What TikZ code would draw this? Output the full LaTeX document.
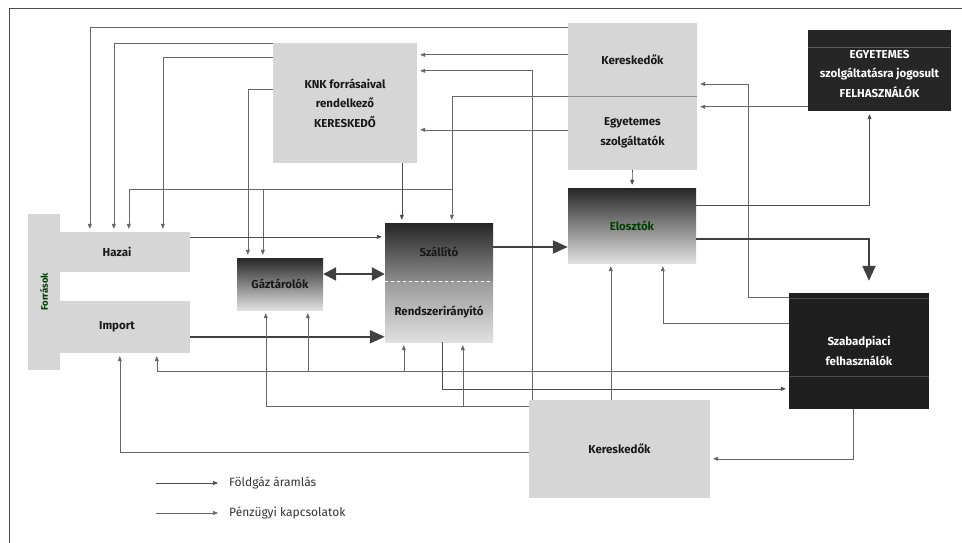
\documentclass[tikz,border=0pt]{standalone}
\usepackage{fontspec}
\setmainfont{Fira Sans}
\usepackage{tikz}
\usetikzlibrary{
  arrows.meta,
}

\begin{document}
\begin{tikzpicture}[
  x = 1pt,
  y = -1pt,
  box/.style={
    draw = none,
    inner sep = 0pt,
    align = center,
    font = \bfseries\fontsize{11.5}{19.5}\selectfont,
    text = black!90,
  },
  light box/.style={
    box,
    fill = black!16,
  },
  dark box/.style={
    box,
    fill = black!85,
    text = white,
  },
  shaded box/.style={
    box,
    top color = black!85,
    bottom color = black!12,
  },
  flow/.style={
    draw = black!70,
    line width = 0.6pt,
    shorten > = 3pt,
    -{Triangle[length=5pt,width=4pt]},
  },
  money/.style={
    flow,
    draw = black!60,
  },
  thick flow/.style={
    draw = black!75,
    line width = 2.2pt,
    -{Triangle[length=15pt,width=13pt]},
  },
  legend text/.style={
    anchor = west,
    inner sep = 0pt,
    font = \fontsize{12}{14}\selectfont,
    text = black!80,
  },
  ]
  \useasboundingbox (0,0) rectangle (962,543);
  \draw [black!70, line width=1pt] (9,543) -- (9,9) -- (962,9);

  \node [light box, minimum width=146, minimum height=40]
    (node-domestic) at (117,252) {Hazai};
  \node [light box, minimum width=146, minimum height=52]
    (node-import) at (117,327) {Import};
  \node [light box, rotate=90, minimum width=156, minimum height=32,
    font=\bfseries\fontsize{9.5}{11}\selectfont, text=green!25!black]
    (node-sources) at (44,292) {Források};
  \node [light box, minimum width=144, minimum height=120]
    (node-knk) at (345,103) {KNK forrásaival\\rendelkező\\KERESKEDŐ};
  \node [light box, minimum width=129, minimum height=73]
    (node-traders-top) at (632.5,59.5) {Kereskedők};
  \node [light box, minimum width=129, minimum height=74]
    (node-suppliers) at (632.5,133) {Egyetemes\\szolgáltatók};
  \node [dark box, minimum width=143, minimum height=81]
    (node-eligible) at (879.5,70.5) {};
  \node [box, text=white] (node-eligible-text) at (879.5,74)
    {EGYETEMES\\szolgáltatásra jogosult\\FELHASZNÁLÓK};
  \node [shaded box, minimum width=128, minimum height=75, text=green!25!black]
    (node-distributors) at (632,225.5) {Elosztók};
  \node [shaded box, bottom color=black!45, minimum width=108, minimum height=58]
    (node-transmission) at (439,252) {Szállító};
  \node [shaded box, top color=black!40, minimum width=108, minimum height=61]
    (node-operator) at (439,311.5) {Rendszerirányító};
  \node [shaded box, minimum width=86, minimum height=52]
    (node-storage) at (280,284) {Gáztárolók};
  \node [dark box, fill=black!88, minimum width=140, minimum height=116]
    (node-free) at (859,351) {Szabadpiaci\\felhasználók};
  \node [light box, minimum width=181, minimum height=98]
    (node-traders-bottom) at (619.5,449) {Kereskedők};

  \draw [black!45, line width=0.8pt]
    (node-traders-top.south west) -- (node-traders-top.south east);
  \draw [white, dashed, line width=0.8pt]
    (node-transmission.south west) -- (node-transmission.south east);
  \draw [black!65]
    ([yshift=-17]node-eligible.north west) -- ([yshift=-17]node-eligible.north east);
  \draw [black!70]
    ([yshift=-5]node-free.north west) -- ([yshift=-5]node-free.north east);
  \draw [black!70]
    ([yshift=-83]node-free.north west) -- ([yshift=-83]node-free.north east);

  \coordinate (split-top) at (452,189);
  \coordinate (turn-free) at (748,84);
  \coordinate (line-free) at ([yshift=-78]node-free.north west);
  \coordinate (line-retail) at ([yshift=-6]node-traders-bottom.north west);

  \draw [money] ([yshift=-5]node-traders-top.north west)
    -| ([xshift=46]node-domestic.north west);
  \draw [money] ([yshift=-1]node-knk.north west)
    -| ([xshift=70]node-domestic.north west);
  \draw [money] ([yshift=-15]node-knk.north west)
    -| ([xshift=119]node-domestic.north west);
  \draw [money] ([yshift=-47]node-knk.north west)
    -| ([xshift=11]node-storage.north west);
  \draw [money] (node-traders-top.south west)
    -| ([xshift=67]node-transmission.north west);
  \draw [money] (split-top) -| ([xshift=85]node-domestic.north west);
  \draw [money] ([xshift=26]node-storage.north west |- split-top)
    -- ([xshift=26]node-storage.north west);
  \draw [money] ([yshift=-32]node-traders-top.north west)
    -- ([yshift=-32]node-traders-top.north west -| node-knk.east);
  \draw [money] ([xshift=3]node-traders-bottom.north west)
    |- ([yshift=-28]node-knk.north east);
  \draw [money] ([yshift=-34]node-suppliers.north west)
    -- ([yshift=-34]node-suppliers.north west -| node-knk.east);
  \draw [money] ([yshift=-4]node-free.north west) -| (turn-free)
    -- (turn-free -| node-traders-top.east);
  \draw [money] ([yshift=-77]node-eligible.north west)
    -- ([yshift=-77]node-eligible.north west -| node-suppliers.east);
  \draw [flow] ([yshift=-17]node-distributors.north east)
    -| ([xshift=-10]node-eligible.south);
  \draw [flow] (node-suppliers.south) -- (node-distributors.north);
  \draw [flow] ([xshift=129]node-knk.south west)
    -- ([xshift=129]node-knk.south west |- node-transmission.north);
  \draw [flow] ([yshift=-5]node-domestic.north east)
    -- ([yshift=-5]node-domestic.north east -| node-transmission.west);

  \draw [thick flow, shorten >=12pt] ([yshift=-51]node-distributors.north east)
    -| ([xshift=10]node-free.north);
  \draw [thick flow] ([yshift=5]node-transmission.east)
    -- ([yshift=5]node-transmission.east -| node-distributors.west);
  \draw [thick flow] ([yshift=-36]node-import.north east)
    -- ([yshift=-36]node-import.north east -| node-operator.west);
  \draw [thick flow, {Triangle[length=13pt,width=13pt]}-{Triangle[length=13pt,width=13pt]}]
    ([yshift=10]node-storage.east)
    -- ([yshift=10]node-storage.east -| node-transmission.west);

  \draw [money] (line-free) -| ([xshift=113]node-import.south west);
  \draw [money] ([xshift=71]node-storage.south west |- line-free)
    -- ([xshift=71]node-storage.south west);
  \draw [money] ([xshift=19]node-operator.south west |- line-free)
    -- ([xshift=19]node-operator.south west);
  \draw [flow] ([xshift=57]node-operator.south west)
    |- ([yshift=-96]node-free.north west);
  \draw [money] (line-retail) -| ([xshift=29]node-storage.south west);
  \draw [money] ([xshift=78]node-operator.south west |- line-retail)
    -- ([xshift=78]node-operator.south west);
  \draw [money] ([yshift=-52]node-traders-bottom.north west)
    -| ([xshift=76]node-import.south west);
  \draw [money] ([xshift=82]node-traders-bottom.north west)
    -- ([xshift=82]node-traders-bottom.north west |- node-distributors.south);
  \draw [money] ([yshift=-30]node-free.north west)
    -| ([xshift=95]node-distributors.south west);
  \draw [money] ([xshift=-6]node-free.south)
    |- ([yshift=-59]node-traders-bottom.north east);

  \node [legend text] (node-gas-legend) at (229,483) {Földgáz áramlás};
  \node [legend text] (node-money-legend) at (229,513) {Pénzügyi kapcsolatok};
  \draw [flow, shorten >=0pt] ([xshift=-73]node-gas-legend.west)
    -- ([xshift=-11]node-gas-legend.west);
  \draw [money, shorten >=0pt] ([xshift=-73]node-money-legend.west)
    -- ([xshift=-11]node-money-legend.west);
\end{tikzpicture}
\end{document}
